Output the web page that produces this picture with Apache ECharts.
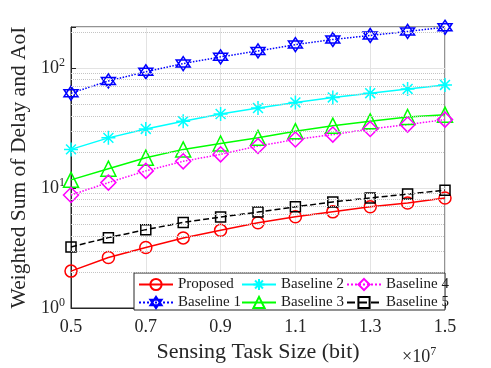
<!DOCTYPE html>
<html><head><meta charset="utf-8">
<script src="https://cdn.jsdelivr.net/npm/echarts@6/dist/echarts.min.js"></script>
<style>html,body{margin:0;padding:0;background:#fff}#c{width:491px;height:368px}</style>
</head><body><div id="c"></div>
<script>
const taskSize = [0.5,0.6,0.7,0.8,0.9,1.0,1.1,1.2,1.3,1.4,1.5];
const proposed  = [2.03,2.64,3.19,3.84,4.44,5.14,5.76,6.33,6.97,7.5,8.27];
const baseline1 = [61.8,78.1,93.2,109,124,139,157,173,187,202,219];
const baseline2 = [21.0,26.2,31.1,36.0,41.4,46.4,51.7,56.9,61.8,67.0,72.4];
const baseline3 = [11.7,14.5,17.9,21.0,23.5,26.2,29.8,33.1,36.0,39.1,40.9];
const baseline4 = [8.75,11.1,13.9,16.7,19.1,22.4,25.4,27.9,31.1,33.8,37.2];
const baseline5 = [3.23,3.86,4.5,5.17,5.73,6.3,6.97,7.66,8.27,8.9,9.6];
const xTicks = [0.5,0.7,0.9,1.1,1.3,1.5];
const minorTicks = [2,3,4,5,6,7,8,9,20,30,40,50,60,70,80,90,200];

const FONT = '"Liberation Serif","Times New Roman",serif';
const hexagram = 'path://M0,-10L8.66,5L-8.66,5ZM0,10L8.66,-5L-8.66,-5Z';
const asterisk = 'path://M0,-10L0,10M-10,0L10,0M-7.07,-7.07L7.07,7.07M-7.07,7.07L7.07,-7.07';

function mk(name, data, color, lineType, symbol, size){
  return {
    name, type:'line', data: taskSize.map((x,i)=>[x,data[i]]),
    symbol, symbolSize:size, showAllSymbol:true,
    lineStyle:{color, width:1.5, type:lineType},
    itemStyle:{color:'rgba(255,255,255,0)', borderColor:color, borderWidth:1.5},
    z:3
  };
}
const series = [
  mk('Proposed', proposed, '#ff0000', 'solid', 'circle', 12),
  mk('Baseline 1', baseline1, '#0000ff', 'dotted', hexagram, 14),
  mk('Baseline 2', baseline2, '#00ffff', 'solid', asterisk, 14),
  mk('Baseline 3', baseline3, '#00ff00', 'solid', 'triangle', 15),
  mk('Baseline 4', baseline4, '#ff00ff', 'dotted', 'diamond', 15),
  mk('Baseline 5', baseline5, '#000000', 'dashed', 'rect', 10)
];
series[0].markLine = {
  silent:true, symbol:['none','none'], label:{show:false}, animation:false,
  lineStyle:{type:'dotted', color:'#c4c4c4', width:1},
  data: minorTicks.map(v=>({yAxis:v}))
};

const legBase = {orient:'vertical', top:277, itemWidth:34, itemHeight:14, itemGap:3, padding:0, z:6,
  textStyle:{fontFamily:FONT, fontSize:15, color:'#1a1a1a'}};

const chart = echarts.init(document.getElementById('c'));
chart.setOption({
  animation:false,
  grid:{left:63, right:46, top:27, bottom:58, show:true, borderColor:'#262626', borderWidth:1, backgroundColor:'transparent'},
  xAxis:{type:'value', min:0.5, max:1.5, interval:0.2,
    name:'Sensing Task Size (bit)', nameLocation:'middle', nameGap:33,
    nameTextStyle:{fontFamily:FONT, fontSize:22, color:'#262626'},
    axisLine:{lineStyle:{color:'#262626'}}, axisTick:{inside:true, length:5, lineStyle:{color:'#262626'}},
    axisLabel:{fontFamily:FONT, fontSize:18, color:'#262626', margin:10, formatter:v=>{
      const r = Math.round(v*10)/10; return xTicks.includes(r) ? r.toFixed(1) : '';}},
    splitLine:{show:true, lineStyle:{color:'#e3e3e3', width:1}}},
  yAxis:{type:'log', logBase:10, min:1, max:220,
    name:'Weighted Sum of Delay and AoI', nameLocation:'middle', nameGap:41,
    nameTextStyle:{fontFamily:FONT, fontSize:21.5, color:'#262626'},
    axisLine:{lineStyle:{color:'#262626'}}, axisTick:{inside:true, length:5, lineStyle:{color:'#262626'}},
    axisLabel:{margin:6, formatter:v=>{
      const l = Math.log10(v); if (Math.abs(l-Math.round(l))>1e-6) return '';
      return '{b|10}{s|'+Math.round(l)+'}';},
      rich:{b:{fontFamily:FONT, fontSize:18, color:'#262626'}, s:{fontFamily:FONT, fontSize:12, color:'#262626', verticalAlign:'top', padding:[0,0,10,0]}}},
    splitLine:{show:true, lineStyle:{color:'#e3e3e3', width:1}}},
  legend:[
    Object.assign({}, legBase, {left:138, data:['Proposed','Baseline 1']}),
    Object.assign({}, legBase, {left:241, data:['Baseline 2','Baseline 3']}),
    Object.assign({}, legBase, {left:346, data:['Baseline 4','Baseline 5']})
  ],
  graphic:[
    {type:'rect', z:5, shape:{x:134, y:273, width:311, height:37}, style:{fill:'#fff', stroke:'#262626', lineWidth:1}},
    {type:'text', z:5, left:402, top:346, style:{rich:{b:{fontFamily:FONT, fontSize:18, fill:'#262626'}, s:{fontFamily:FONT, fontSize:12, fill:'#262626', verticalAlign:'top', padding:[0,0,10,0]}}, text:'{b|×10}{s|7}'}}
  ],
  series
});
</script></body></html>
